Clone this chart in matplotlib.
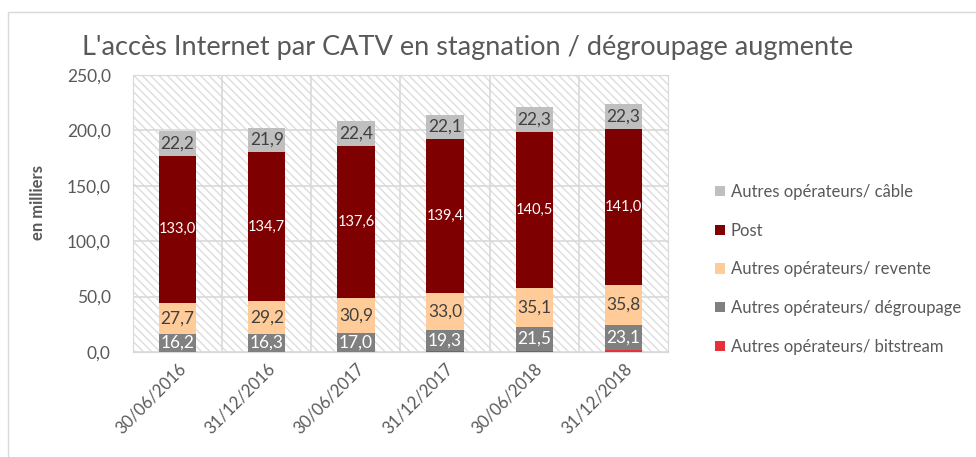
import matplotlib
matplotlib.use("Agg")
import matplotlib.pyplot as plt
import matplotlib.transforms as mtransforms
from matplotlib.patches import Rectangle
import numpy as np

plt.rcParams['font.family'] = ['Lato', 'DejaVu Sans']

categories = ["30/06/2016", "31/12/2016", "30/06/2017", "31/12/2017", "30/06/2018", "31/12/2018"]
bitstream = [0.3, 0.3, 0.4, 0.5, 1.3, 1.6]
degroupage = [16.2, 16.3, 17.0, 19.3, 21.5, 23.1]
revente = [27.7, 29.2, 30.9, 33.0, 35.1, 35.8]
post = [133.0, 134.7, 137.6, 139.4, 140.5, 141.0]
cable = [22.2, 21.9, 22.4, 22.1, 22.3, 22.3]
yticks = [0, 50, 100, 150, 200, 250]

series = [
    ("Autres opérateurs/ bitstream", bitstream, "#E8303A", None),
    ("Autres opérateurs/ dégroupage", degroupage, "#808080", "white"),
    ("Autres opérateurs/ revente", revente, "#FFCC99", "#404040"),
    ("Post", post, "#7F0000", "white"),
    ("Autres opérateurs/ câble", cable, "#BFBFBF", "#404040"),
]

fig = plt.figure(figsize=(9.76, 4.57), dpi=100)
fig.patches.append(Rectangle((8/976, -0.1), 1.2, (457-12)/457 + 0.1, transform=fig.transFigure,
                             fill=False, edgecolor="#D9D9D9", linewidth=1.0))
ax = fig.add_axes([133/976, 1-352/457, (668-133)/976, (352-75)/457])

x = np.arange(len(categories))
ax.set_xlim(-0.5, len(categories)-0.5)
ax.set_ylim(0, 250)

plt.rcParams['hatch.color'] = '#DDDDDD'
plt.rcParams['hatch.linewidth'] = 1.0
bg = Rectangle((0, 0), 1, 1, transform=ax.transAxes, facecolor="white",
               edgecolor="#DDDDDD", hatch="\\\\\\\\", linewidth=0, zorder=0)
ax.add_patch(bg)

for yv in yticks:
    ax.axhline(yv, color="#D9D9D9", linewidth=1.2, zorder=1)
for xv in np.arange(0.5, len(categories)-0.5, 1):
    ax.axvline(xv, color="#D9D9D9", linewidth=1.2, zorder=1)

bottom = np.zeros(len(categories))
width = 0.42
handles = []
for name, vals, color, tcolor in series:
    vals = np.array(vals)
    b = ax.bar(x, vals, width, bottom=bottom, color=color, label=name, zorder=3)
    handles.append(b)
    if tcolor is not None:
        fs = 10.5 if name == "Post" else 12.5
        for xi, v, bt in zip(x, vals, bottom):
            ax.text(xi, bt + v/2, f"{v:.1f}".replace(".", ","), ha="center", va="center",
                    color=tcolor, fontsize=fs, zorder=4)
    bottom = bottom + vals

for s in ax.spines.values():
    s.set_color("#D9D9D9")

ax.set_yticks(yticks)
ax.set_yticklabels([f"{v:.1f}".replace(".", ",") for v in yticks], fontsize=12.5, color="#595959")
ax.set_xticks(x)
ax.set_xticklabels(categories, rotation=45, ha="right", rotation_mode="anchor",
                   fontsize=12, color="#595959")
offset = mtransforms.ScaledTranslation(20/100, -2/100, fig.dpi_scale_trans)
for lab in ax.get_xticklabels():
    lab.set_transform(lab.get_transform() + offset)
ax.tick_params(axis="y", length=0, pad=16)
ax.tick_params(axis="x", length=0, pad=6)

fig.text(38/976, 1-203/457, "en milliers", rotation=90, ha="center", va="center",
         fontsize=12, fontweight="bold", color="#595959")
fig.text(468/976, 1-47/457, "L'accès Internet par CATV en stagnation / dégroupage augmente",
         ha="center", va="center", fontsize=19.5, color="#595959")

leg = fig.legend(handles[::-1], [h.get_label() for h in handles[::-1]],
                 loc="upper left", bbox_to_anchor=(700/976, 1-169/457), frameon=False,
                 fontsize=12, labelspacing=1.36, handlelength=0.6, handleheight=0.6,
                 handletextpad=0.35, labelcolor="#595959")

fig.savefig("out.png", dpi=100)
